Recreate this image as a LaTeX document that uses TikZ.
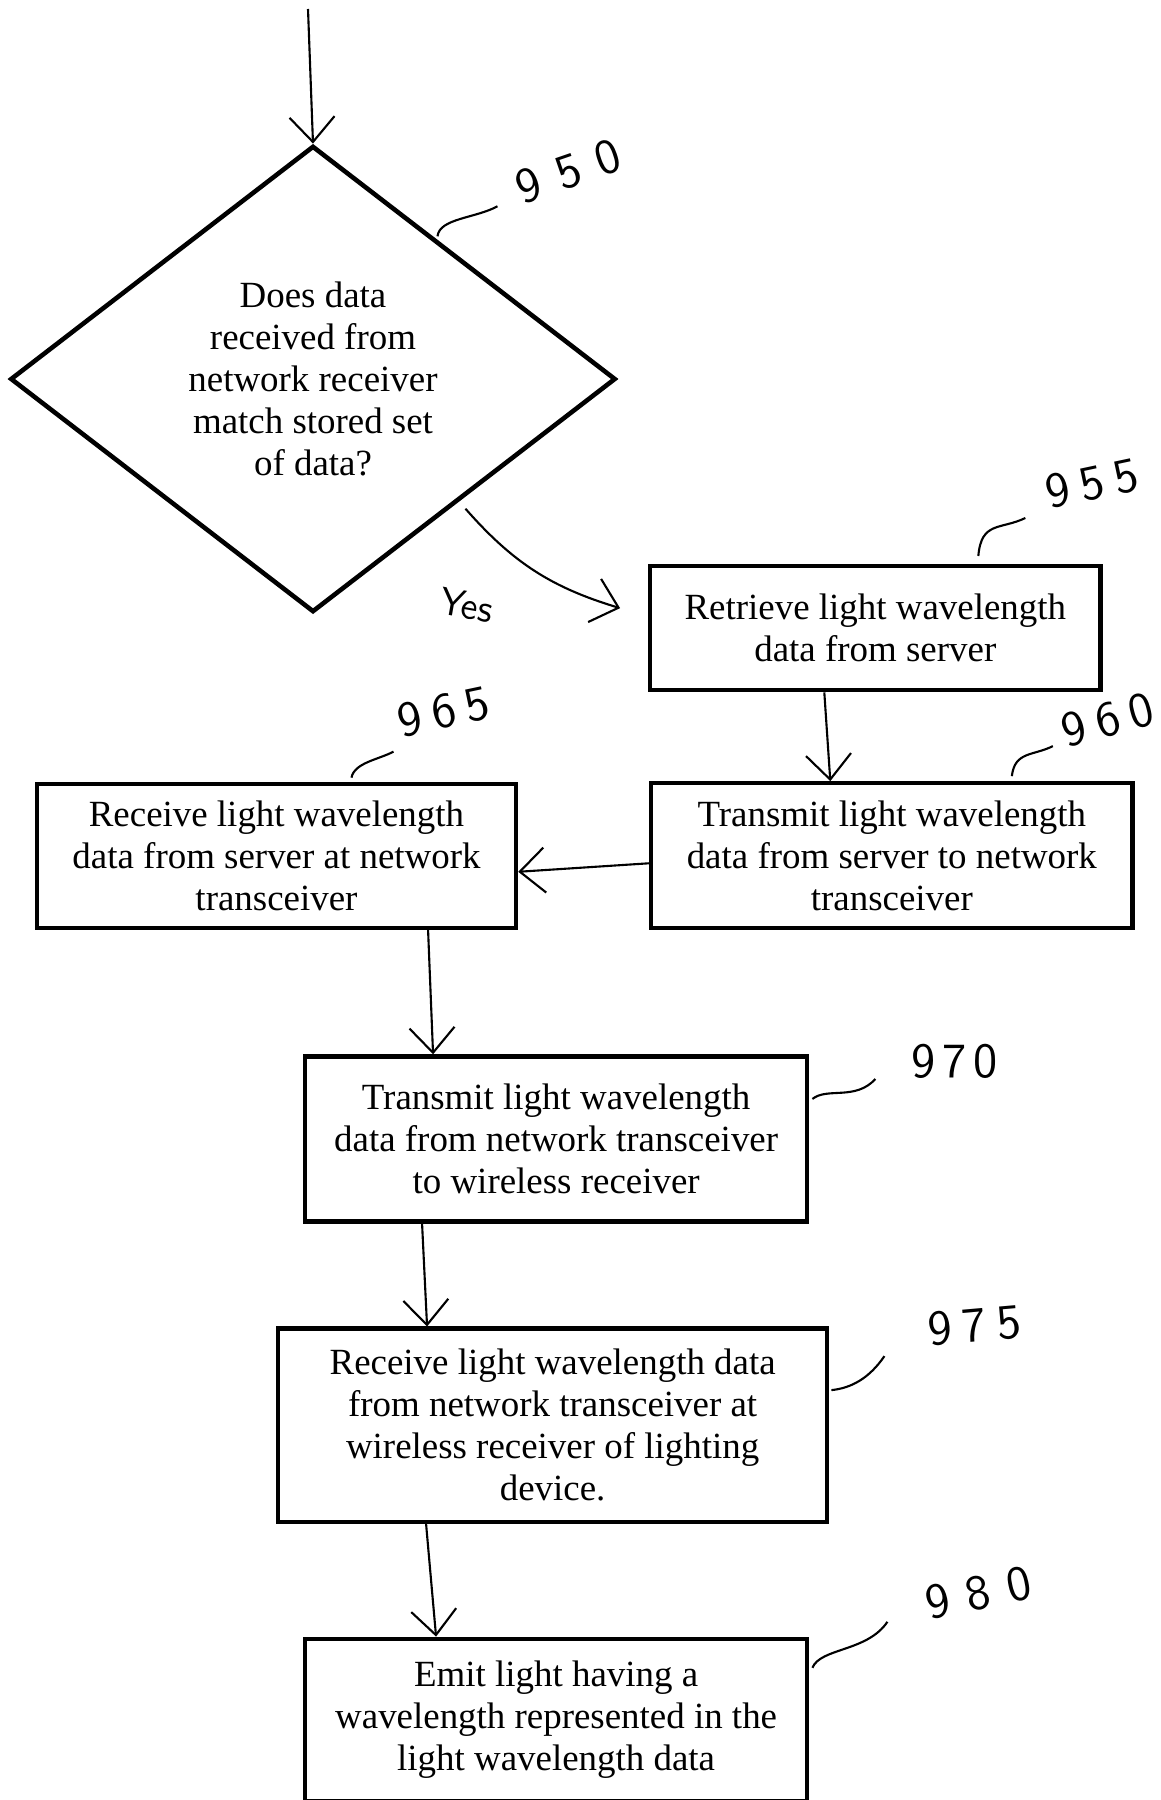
\documentclass[tikz,border=0pt]{standalone}
\usepackage{fontspec}
\setmainfont{Liberation Serif}
\usetikzlibrary{positioning,shapes.geometric,arrows.meta}

\begin{document}
\begin{tikzpicture}[x=0.01cm, y=-0.01cm, node distance=2.3cm,
                    >={Straight Barb[length=2.5mm,width=4.5mm]},
                    box node/.style={rectangle,draw,line width=1.2pt,align=center,inner sep=0pt,
                                     font=\fontsize{10.5}{12}\selectfont},
                    test node/.style={diamond,draw,line width=1.3pt,align=center,inner sep=0pt,
                                      minimum width=6.05cm,minimum height=4.66cm,
                                      font=\fontsize{10.5}{12}\selectfont},
                    ref node/.style={inner sep=0pt,font=\sffamily\fontsize{14}{14}\selectfont},
                    pen/.style={line width=0.6pt}]

   \useasboundingbox (0,0) rectangle (1160,1800);

   \coordinate (in) at (308,9);
   \node[test node] (d950) at (313,379) {Does data\\received from\\network receiver\\match stored set\\of data?};
   \node[box node,minimum width=4.5cm,minimum height=1.24cm] (b955) [node distance=5.62cm,right of=d950,yshift=-2.49cm]{Retrieve light wavelength\\data from server};
   \node[box node,minimum width=4.81cm,minimum height=1.45cm] (b960) [node distance=2.275cm,below of=b955,xshift=0.165cm]{Transmit light wavelength\\data from server to network\\transceiver};
   \node[box node,minimum width=4.79cm,minimum height=1.44cm] (b965) [node distance=6.15cm,left of=b960]{Receive light wavelength\\data from server at network\\transceiver};
   \node[box node,minimum width=5.02cm,minimum height=1.65cm] (b970) [node distance=2.83cm,below of=b965,xshift=2.795cm]{Transmit light wavelength\\data from network transceiver\\to wireless receiver};
   \node[box node,minimum width=5.49cm,minimum height=1.93cm] (b975) [node distance=2.86cm,below of=b970,xshift=-0.035cm]{Receive light wavelength data\\from network transceiver at\\wireless receiver of lighting\\device.};
   \node[box node,minimum width=5.02cm,minimum height=1.62cm] (b980) [node distance=2.945cm,below of=b975,xshift=0.035cm]{Emit light having a\\wavelength represented in the\\light wavelength data};

  \path[pen,->]
    (in) edge (d950.north)
    ([yshift=-0.12cm]d950.south east)
       edge[bend right=16] node[pos=0.3,shift={(-40,55)},rotate=-10,font=\sffamily\fontsize{11}{11}\selectfont] {Yes} ([shift={(-28,-20)}]b955.west)
    ([xshift=-0.51cm]b955.south) edge ([xshift=-0.615cm]b960.north)
    ([yshift=-0.075cm]b960.west) edge ([yshift=-0.16cm]b965.east)
    ([xshift=1.515cm]b965.south) edge ([xshift=-1.23cm]b970.north)
    ([xshift=-1.34cm]b970.south) edge ([xshift=-1.255cm]b975.north)
    ([xshift=-1.265cm]b975.south) edge ([xshift=-1.2cm]b980.north)
       ;

  % reference numerals
  \draw[pen] ([shift={(-28,-25)}]d950.north east) .. controls +(2,-18) and +(-22,12) .. ++(60,-30)
     node[ref node,shift={(71,-35)},rotate=19] (l950) {9\hspace{5pt}5\hspace{5pt}0};
  \draw[pen] ([shift={(103,-8)}]b955.north) .. controls +(3,-35) and +(-25,12) .. ++(47,-38)
     node[ref node,shift={(67,-35)},rotate=12] (l955) {9\hspace{3pt}5\hspace{3pt}5};
  \draw[pen] ([shift={(120,-5)}]b960.north) .. controls +(3,-25) and +(-20,10) .. ++(41,-30)
     node[ref node,shift={(55,-26)},rotate=15] (l960) {9\hspace{3pt}6\hspace{3pt}0};
  \draw[pen] ([shift={(75,-4)}]b965.north) .. controls +(3,-15) and +(-15,8) .. ++(42,-26)
     node[ref node,shift={(50,-40)},rotate=12] (l965) {9\hspace{3pt}6\hspace{3pt}5};
  \draw[pen] ([shift={(3,-40)}]b970.east) .. controls +(15,-12) and +(-20,22) .. ++(63,-20)
     node[ref node,shift={(79,-18)}] (l970) {9\hspace{2pt}7\hspace{2pt}0};
  \draw[pen] ([shift={(2,-35)}]b975.east) .. controls +(20,-2) and +(-15,22) .. ++(53,-34)
     node[ref node,shift={(90,-31)},rotate=5] (l975) {9\hspace{3pt}7\hspace{3pt}5};
  \draw[pen] ([shift={(3,-52)}]b980.east) .. controls +(8,-20) and +(-20,30) .. ++(75,-46)
     node[ref node,shift={(91,-29)},rotate=12] (l980) {9\hspace{5pt}8\hspace{5pt}0};

\end{tikzpicture}
\end{document}
